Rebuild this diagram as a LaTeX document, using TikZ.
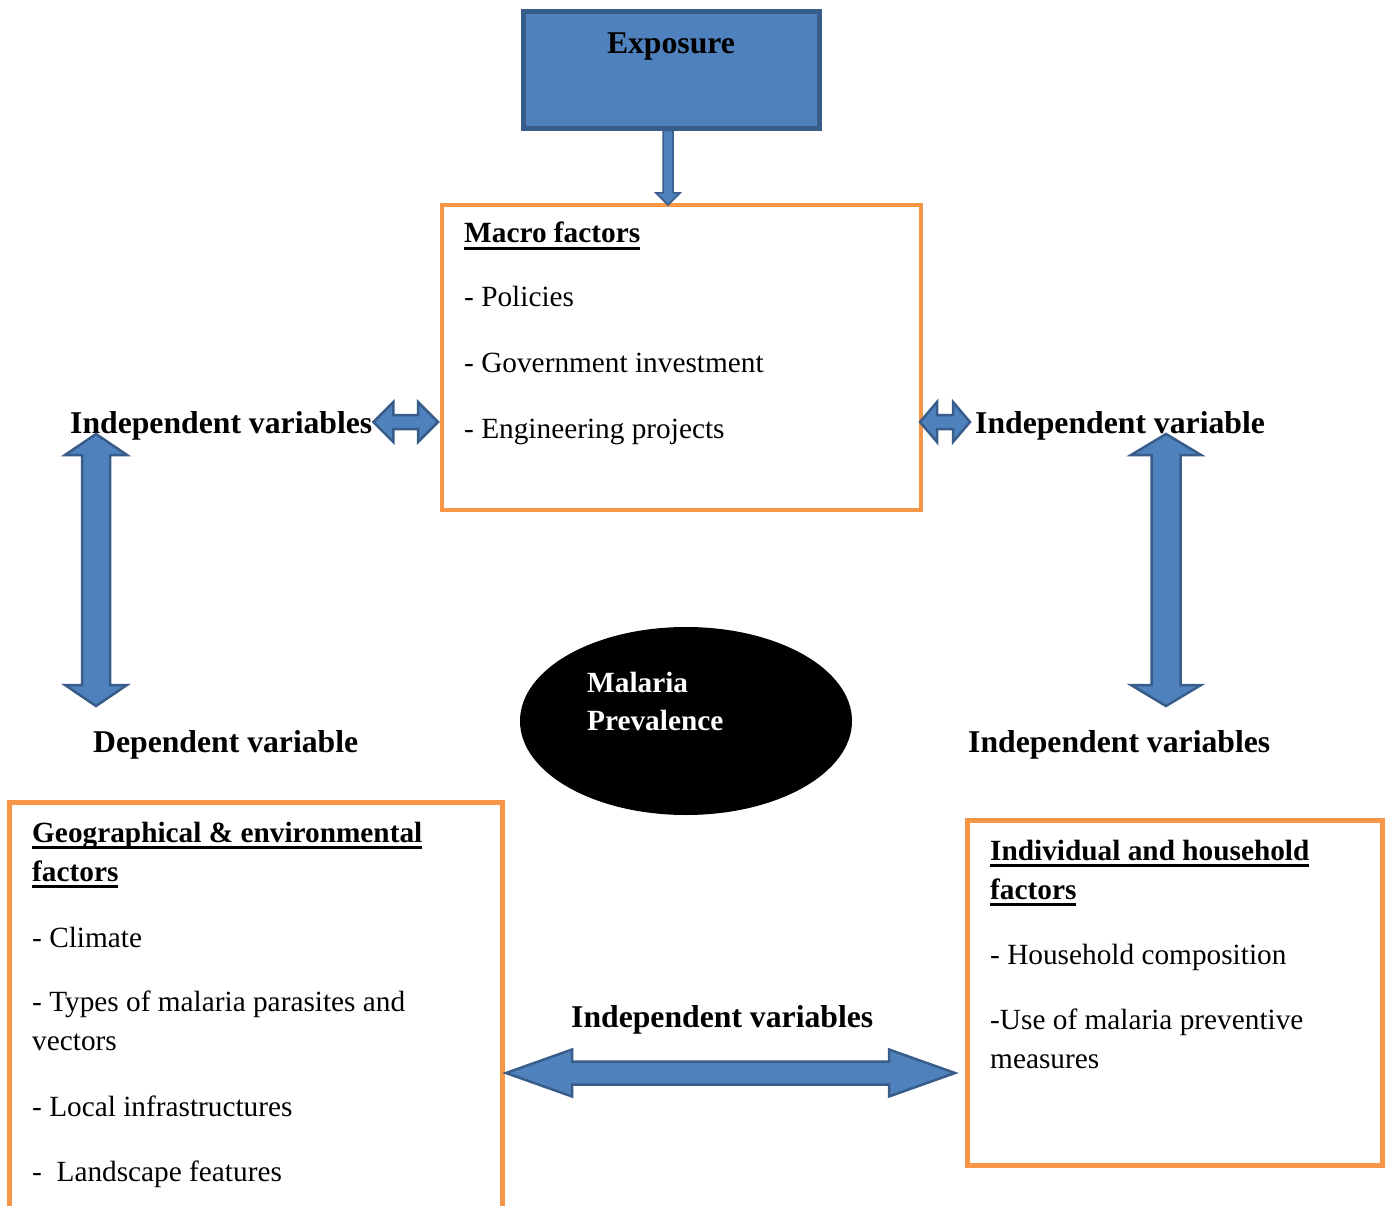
\documentclass[tikz,border=0pt]{standalone}
\usepackage{fontspec}
\setmainfont{Liberation Serif}
\usetikzlibrary{calc, positioning, shapes.geometric}
\definecolor{boxblue}{HTML}{4F81BD}
\definecolor{edgeblue}{HTML}{385D8A}
\definecolor{factor}{HTML}{F79646}

\newlength{\ulwd}
\newcommand{\ulined}[1]{\settowidth{\ulwd}{#1}\rlap{\rule[-7pt]{\ulwd}{3pt}}#1}

% block double arrow: tips #1 and #2, half shaft #3, half head #4, head length #5
\newcommand{\dblarrow}[5]{%
  \path ($(#1)!#5!(#2)$) coordinate (ha) ($(#2)!#5!(#1)$) coordinate (hb);
  \filldraw[arrowshape] (#1) -- ($(ha)!#4!90:(#2)$) -- ($(ha)!#3!90:(#2)$)
    -- ($(hb)!#3!-90:(#1)$) -- ($(hb)!#4!-90:(#1)$) -- (#2)
    -- ($(hb)!#4!90:(#1)$) -- ($(hb)!#3!90:(#1)$)
    -- ($(ha)!#3!-90:(#2)$) -- ($(ha)!#4!-90:(#2)$) -- cycle;
}

\tikzset{
  labeltext/.style={font=\fontsize{31.7}{39}\selectfont\bfseries, inner sep=0pt, anchor=base west},
  titletext/.style={font=\fontsize{29.3}{39}\selectfont\bfseries, inner sep=0pt, anchor=base west},
  itemtext/.style={font=\fontsize{29.3}{39}\selectfont, inner sep=0pt, anchor=base west},
  factorbox/.style={draw=factor, line width=4.5pt, inner sep=0pt, outer sep=0pt, anchor=north west},
  arrowshape/.style={fill=boxblue, draw=edgeblue, line width=2.5pt}
}

\begin{document}
\begin{tikzpicture}[x=1pt, y=-1pt]
  \useasboundingbox (0,0) rectangle (1390,1206);
  \clip (0,0) rectangle (1390,1206);

  % Exposure on top
  \node[fill=boxblue, draw=edgeblue, line width=5pt, outer sep=0pt, anchor=north west,
        minimum width=296pt, minimum height=117pt] (exposure) at (523,11.5) {};
  \node[labeltext, anchor=base] (exptxt) at ($(exposure.north)+(0,42)$) {Exposure};

  % factor boxes
  \node[factorbox, minimum width=479pt, minimum height=305pt] (macro) at (442,205) {};
  \node[factorbox, minimum width=493pt, minimum height=450pt] (geo) at (9.5,802.5) {};
  \node[factorbox, minimum width=415pt, minimum height=345pt] (indiv) at (967.5,820.5) {};

  % drop arrow from exposure
  \path (exposure.south) ++(-3,2) coordinate (dtop);
  \path (macro.north -| dtop) coordinate (dtip);
  \filldraw[arrowshape, line width=1.5pt] ($(dtop)+(-5,0)$) -- ($(dtip)+(-5,-12)$)
    -- ($(dtip)+(-12,-12)$) -- (dtip) -- ($(dtip)+(12,-12)$) -- ($(dtip)+(5,-12)$)
    -- ($(dtop)+(5,0)$) -- cycle;

  % Macro factors
  \node[titletext] (macro-title) at (464,243) {\ulined{Macro factors}};
  \foreach \yy/\txt in {307/- Policies, 373/- Government investment, 438/- Engineering projects}
    \node[itemtext] (macro-\yy) at (464,\yy) {\txt};

  % Geographical & environmental
  \node[titletext] (geo-title) at (32,842) {\ulined{Geographical \& environmental}};
  \node[titletext] (geo-title2) at (32,881) {\ulined{factors}};
  \foreach \yy/\txt in {947/- Climate, 1011/- Types of malaria parasites and, 1050/vectors,
                        1116/- Local infrastructures, 1181/-~~Landscape features}
    \node[itemtext] (geo-\yy) at (32,\yy) {\txt};

  % Individual and household
  \node[titletext] (indiv-title) at (990,860) {\ulined{Individual and household}};
  \node[titletext] (indiv-title2) at (990,899) {\ulined{factors}};
  \foreach \yy/\txt in {964/- Household composition, 1029/-Use of malaria preventive, 1068/measures}
    \node[itemtext] (indiv-\yy) at (990,\yy) {\txt};

  % Malaria prevalence
  \node[ellipse, fill=black, minimum width=332pt, minimum height=188pt, inner sep=0pt] (malaria) at (686,721) {};
  \node[titletext, text=white] (mal1) at (587,692) {Malaria};
  \node[titletext, text=white] (mal2) at (587,730) {Prevalence};

  % variable labels
  \node[labeltext] (indepL) at (70,433) {Independent variables};
  \node[labeltext] (indepR) at (975,433) {Independent variable};
  \node[labeltext] (dep) at (93,752) {Dependent variable};
  \node[labeltext] (indepR2) at (968,752) {Independent variables};
  \node[labeltext] (indepB) at (571,1027) {Independent variables};

  % block arrows
  \coordinate (hl1) at (indepL.base east);
  \coordinate (hl2) at (macro.west |- hl1);
  \coordinate (hr1) at (macro.east |- hl1);
  \coordinate (hr2) at (indepR.base west);
  \dblarrow{$(hl1)+(1,-11)$}{$(hl2)+(-4,-11)$}{7pt}{20pt}{20pt}
  \dblarrow{$(hr1)+(-1,-11)$}{$(hr2)+(-5,-11)$}{7pt}{20pt}{17pt}
  \coordinate (vl1) at (96,434);
  \coordinate (vl2) at (96,706);
  \coordinate (vr1) at (1166,434);
  \coordinate (vr2) at (1166,706);
  \dblarrow{vl1}{vl2}{14pt}{31pt}{21pt}
  \dblarrow{vr1}{vr2}{14.5pt}{35pt}{21pt}
  \coordinate (hb1) at (506,1073);
  \coordinate (hb2) at (955,1073);
  \dblarrow{hb1}{hb2}{11.5pt}{23.5pt}{66pt}
\end{tikzpicture}
\end{document}
